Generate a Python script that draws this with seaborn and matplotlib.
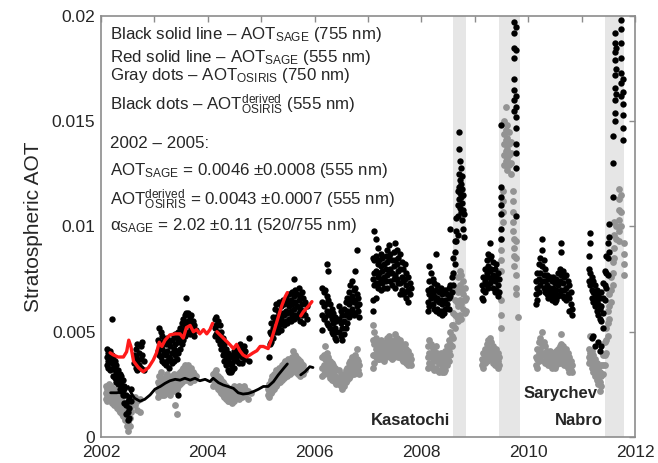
import matplotlib
matplotlib.use("Agg")
import matplotlib.pyplot as plt
import pandas as pd
import seaborn as sns

# ---------------------------------------------------------------------------
# Data (AOT values in units of 1e-3; each time entry holds the retrievals of
# that pass, times in decimal years)
# ---------------------------------------------------------------------------

# OSIRIS-derived AOT at 555 nm (black dots)
b02_t = [2002.11, 2002.14, 2002.17, 2002.20, 2002.23, 2002.26, 2002.29, 2002.32,
         2002.35, 2002.38, 2002.41, 2002.44, 2002.47, 2002.50, 2002.53, 2002.56,
         2002.62, 2002.65, 2002.68, 2002.71, 2002.74, 2002.77, 2002.80]
b02_v = [[4.2, 3.8, 3.4], [4.0, 3.6, 3.3], [4.1, 3.7, 3.2], [5.6, 3.9, 3.5],
         [3.8, 3.3, 2.9], [3.6, 3.2, 2.8], [3.4, 3.0, 2.6], [3.2, 2.8, 2.5],
         [3.0, 2.6, 2.3], [2.9, 2.5, 2.2], [2.7, 2.3, 2.0], [2.4, 2.0, 1.6],
         [2.0, 1.5, 1.1], [1.7, 1.2, 0.8], [1.9, 1.4, 0.9], [2.3, 1.7],
         [3.9, 3.5], [4.2, 3.8, 3.3], [4.4, 3.6, 3.2], [4.0, 3.4],
         [4.3, 3.7, 3.3], [4.5, 3.9], [3.6, 3.2]]

b03_t = [2003.06, 2003.09, 2003.12, 2003.15, 2003.18, 2003.21, 2003.24, 2003.27,
         2003.30, 2003.33, 2003.36, 2003.39, 2003.42, 2003.45, 2003.48, 2003.51,
         2003.54, 2003.57, 2003.60, 2003.63, 2003.66, 2003.69, 2003.72, 2003.75,
         2003.78]
b03_v = [[4.6, 4.1], [5.2, 4.5, 3.9], [5.0, 4.3, 3.8], [4.8, 4.2, 3.6],
         [4.6, 4.0, 3.5], [4.4, 3.9, 3.4], [4.7, 4.1, 3.6], [4.5, 3.8, 3.3],
         [4.3, 3.7], [4.6, 4.0, 3.5], [4.8, 4.2, 3.6], [4.9, 4.4, 3.9],
         [4.7, 4.1, 3.7], [5.0, 4.5, 4.0, 2.0], [5.2, 4.7, 4.2], [5.4, 4.9, 4.4],
         [5.6, 5.1, 4.6], [5.8, 5.3, 4.8], [6.6, 5.9, 5.4, 4.9], [5.9, 5.5, 5.0],
         [5.7, 5.3, 4.9], [5.8, 5.2], [5.5, 5.0], [5.3, 4.8], [5.1]]

b04_t = [2004.13, 2004.16, 2004.19, 2004.22, 2004.25, 2004.28, 2004.31, 2004.34,
         2004.37, 2004.40, 2004.43, 2004.46, 2004.49, 2004.52, 2004.55, 2004.58,
         2004.61, 2004.64, 2004.67, 2004.70, 2004.78]
b04_v = [[5.6, 5.2, 4.8], [5.7, 5.3, 4.9], [5.5, 5.0, 4.6], [5.3, 4.8, 4.4],
         [5.0, 4.6, 4.2], [4.7, 4.3, 3.9], [4.4, 4.0, 3.6], [4.2, 3.8, 3.4],
         [4.0, 3.6, 3.2], [3.9, 3.5, 3.1], [3.8, 3.4, 3.1], [3.9, 3.5, 3.2],
         [4.1, 3.7, 3.3], [4.2, 3.8], [4.0, 3.6], [4.3, 3.9, 3.5], [4.4, 4.0],
         [4.2, 3.8, 3.5], [4.3, 3.9], [4.1, 3.7], [4.7, 3.6]]

b05_t = [2005.14, 2005.16, 2005.19, 2005.22, 2005.25, 2005.28, 2005.31, 2005.34,
         2005.37, 2005.40, 2005.43, 2005.46, 2005.49, 2005.52, 2005.55, 2005.58,
         2005.61, 2005.64, 2005.67, 2005.70, 2005.73, 2005.76, 2005.79, 2005.82,
         2005.85]
b05_v = [[3.8], [5.0, 4.4], [5.4, 4.9, 4.5], [5.7, 5.2, 4.7], [6.1, 5.5, 5.0],
         [6.3, 5.7, 5.2], [6.0, 5.5, 5.0], [6.4, 5.8, 5.3], [6.2, 5.6, 5.1],
         [6.5, 5.9, 5.4], [6.3, 5.8, 5.3], [6.6, 6.0, 5.5], [6.4, 5.9, 5.4],
         [6.8, 6.2, 5.6], [6.5, 6.0, 5.5], [6.9, 6.3, 5.8], [7.5, 6.7, 6.1, 5.6],
         [7.0, 6.4, 5.8], [6.8, 6.2, 5.7], [7.1, 6.5, 5.9], [6.7, 6.1, 5.5],
         [6.9, 6.3, 5.8], [6.6, 6.0, 5.4], [6.4, 5.8], [6.2, 5.6]]

b06_t = [2006.14, 2006.17, 2006.20, 2006.23, 2006.26, 2006.29, 2006.32, 2006.35,
         2006.38, 2006.41, 2006.46, 2006.49, 2006.52, 2006.55, 2006.58, 2006.61,
         2006.64, 2006.67, 2006.70, 2006.73, 2006.76, 2006.79, 2006.82, 2006.84]
b06_v = [[7.1, 6.4, 5.8, 5.1], [6.9, 6.2, 5.6], [7.0, 6.3, 5.7],
         [8.2, 6.7, 6.0, 5.4], [7.9, 6.5, 5.9, 5.3], [6.3, 5.8, 5.2],
         [6.1, 5.6, 5.0], [5.9, 5.4, 4.9], [5.7, 5.2, 4.7], [5.5, 5.0, 4.6],
         [6.2, 5.6, 5.0], [6.0, 5.4, 4.8], [5.8, 5.2, 4.6], [6.1, 5.5, 4.9],
         [6.4, 5.8, 5.2], [6.6, 6.0, 5.4], [6.9, 6.3, 5.7], [7.2, 6.5, 5.9],
         [7.4, 6.7, 6.1], [7.0, 6.4, 5.8], [7.9, 7.1, 6.5, 5.9], [8.9, 6.8, 6.2],
         [6.6, 6.0], [6.3, 5.7]]

b07_t = [2007.09, 2007.12, 2007.15, 2007.18, 2007.21, 2007.24, 2007.27, 2007.30,
         2007.33, 2007.36, 2007.39, 2007.42, 2007.45, 2007.48, 2007.51, 2007.54,
         2007.57, 2007.60, 2007.63, 2007.66, 2007.69, 2007.72, 2007.75, 2007.78,
         2007.81]
b07_v = [[8.5, 7.5, 6.5, 6.0], [9.8, 8.4, 7.8, 7.2], [9.4, 8.6, 7.9, 7.3, 6.6],
         [9.0, 8.2, 7.6, 7.1], [8.4, 7.8, 7.3], [8.7, 8.1, 7.5, 7.0],
         [8.5, 7.9, 7.3], [8.2, 7.6, 7.1], [8.6, 8.0, 7.4], [8.9, 8.3, 7.7, 7.1],
         [9.1, 8.5, 7.8], [8.7, 8.0, 7.4], [8.4, 7.8, 7.2], [8.8, 8.1, 7.5],
         [9.2, 8.4, 7.7, 7.1], [8.9, 8.2, 7.5], [8.5, 7.9, 7.3],
         [8.7, 8.0, 7.3, 6.8], [8.3, 7.6, 7.0], [8.0, 7.4, 6.8], [8.2, 7.5, 6.9],
         [7.8, 7.2, 6.6], [7.6, 7.0, 6.4], [7.3, 6.8], [7.1]]

b08_t = [2008.12, 2008.15, 2008.18, 2008.21, 2008.24, 2008.27, 2008.30, 2008.33,
         2008.36, 2008.39, 2008.42, 2008.45, 2008.48, 2008.51, 2008.54, 2008.57,
         2008.60, 2008.63, 2008.65, 2008.68, 2008.70, 2008.72, 2008.74, 2008.76,
         2008.78, 2008.80]
b08_v = [[7.0, 6.4, 6.0], [8.1, 7.4, 6.8, 6.2], [7.8, 7.1, 6.6], [7.5, 6.9, 6.3],
         [7.3, 6.7, 6.1], [8.7, 7.0, 6.5, 6.0], [7.2, 6.6, 6.1], [6.9, 6.4, 5.9],
         [7.1, 6.5, 6.0], [6.8, 6.3, 5.8], [6.9, 6.4, 5.9], [7.0, 6.5, 6.1],
         [6.8, 6.3], [7.1, 6.6, 6.1], [9.9, 7.2, 6.7], [7.6, 6.9],
         [8.5, 7.8, 7.2], [9.3, 8.8, 8.2], [10.4, 9.8, 9.3],
         [11.7, 11.0, 10.5, 9.6], [14.5, 13.7, 12.5, 11.9, 11.3],
         [13.1, 12.2, 11.6, 10.9], [12.8, 12.0, 11.4, 10.7],
         [12.4, 11.8, 11.1, 10.3], [11.5, 10.8, 9.9], [10.6, 9.5]]

b09_t = [2009.13, 2009.16, 2009.19, 2009.22, 2009.25, 2009.28, 2009.31, 2009.34,
         2009.37, 2009.40, 2009.43, 2009.46, 2009.49, 2009.74, 2009.77]
b09_v = [[7.2, 6.6], [7.6, 7.0, 6.5], [8.0, 7.4, 6.9], [8.4, 7.8, 7.2],
         [8.7, 8.1, 7.6, 7.1], [9.2, 8.5, 7.9, 7.3], [8.6, 8.0, 7.5],
         [8.3, 7.7, 7.1], [8.0, 7.4, 6.9], [8.2, 7.6, 7.0], [7.8, 7.2, 6.7],
         [7.5, 6.9], [14.8, 11.9, 11.4, 11.0, 10.6, 9.9, 9.4],
         [19.7, 19.2, 18.5, 18.0, 17.0, 16.5, 16.0, 15.5],
         [19.5, 18.4, 16.2, 15.7, 15.2, 14.7, 13.9, 13.5, 12.8, 10.5]]

b10_t = [2010.14, 2010.17, 2010.20, 2010.23, 2010.26, 2010.29, 2010.32, 2010.35,
         2010.38, 2010.41, 2010.44, 2010.47, 2010.50, 2010.53, 2010.56, 2010.59,
         2010.62, 2010.65, 2010.68, 2010.71, 2010.74, 2010.77, 2010.80, 2010.83]
b10_v = [[7.4, 6.8, 6.3], [7.8, 7.1, 6.5], [8.2, 7.5, 6.9], [8.5, 7.8, 7.2],
         [9.4, 8.9, 8.1, 7.4], [8.4, 7.7, 7.1], [8.0, 7.4, 6.9], [7.7, 7.2, 6.8],
         [7.5, 7.0, 6.6], [7.6, 7.1, 6.7], [7.4, 6.9, 6.5], [7.6, 7.1, 6.6],
         [7.3, 6.8, 6.4], [7.5, 7.0, 6.5], [7.8, 7.2, 6.7], [8.0, 7.4, 6.8],
         [9.2, 8.8, 7.7, 7.0], [7.9, 7.3, 6.7], [7.6, 7.0, 6.6], [7.7, 7.1, 6.5],
         [7.4, 6.8], [7.2, 6.6, 6.0], [6.9, 6.3], [6.1, 5.8]]

b11_t = [2011.13, 2011.16, 2011.19, 2011.22, 2011.25, 2011.28, 2011.31, 2011.34,
         2011.37, 2011.40, 2011.43, 2011.46, 2011.49, 2011.52, 2011.58, 2011.62,
         2011.65, 2011.74, 2011.78]
b11_v = [[8.6, 8.0, 7.4], [9.7, 9.2, 7.8, 7.2], [7.6, 7.0, 6.6, 4.7],
         [7.4, 6.9, 6.4, 4.8], [7.2, 6.7, 6.2, 4.3], [7.0, 6.5, 6.0],
         [6.8, 6.3, 5.8, 4.5], [6.6, 6.1, 5.6, 4.1], [6.9, 6.2, 5.5, 4.3],
         [7.3, 6.6, 5.9, 5.2], [7.9, 7.2, 6.5], [8.6, 7.8, 7.1],
         [9.2, 8.5, 7.7], [10.1, 9.5, 8.8], [14.3, 13.0, 11.4],
         [19.2, 18.7, 18.3, 17.9, 17.2, 16.6, 16.0, 15.4, 15.0],
         [18.5, 17.5, 16.3], [19.8, 19.4, 18.7, 18.0, 17.3, 16.8, 16.2],
         [17.0, 16.4, 15.8, 15.3, 14.7, 14.1]]

# OSIRIS AOT at 750 nm (gray dots)
g02_t = [2002.09, 2002.12, 2002.15, 2002.18, 2002.21, 2002.24, 2002.27, 2002.30,
         2002.33, 2002.36, 2002.39, 2002.42, 2002.45, 2002.48, 2002.51, 2002.54,
         2002.57, 2002.63, 2002.68, 2002.73]
g02_v = [[2.4, 2.1, 1.8], [2.3, 2.0, 1.7], [2.5, 2.1, 1.8], [2.4, 2.0, 1.7],
         [2.2, 1.9, 1.6], [2.3, 1.9, 1.5], [2.1, 1.8, 1.5], [2.0, 1.7, 1.4],
         [1.9, 1.6, 1.3], [1.8, 1.5, 1.2], [1.7, 1.4, 1.1], [1.6, 1.3, 1.0],
         [1.5, 1.1, 0.8], [1.3, 0.9, 0.5], [1.2, 0.7, 0.3], [1.4, 0.9, 0.5],
         [1.6, 1.2], [1.9, 1.5], [1.7, 1.3], [1.8, 1.2]]

g03_t = [2003.06, 2003.09, 2003.12, 2003.15, 2003.18, 2003.21, 2003.24, 2003.27,
         2003.30, 2003.33, 2003.36, 2003.39, 2003.42, 2003.45, 2003.48, 2003.51,
         2003.54, 2003.57, 2003.60, 2003.63, 2003.66, 2003.69, 2003.72, 2003.75,
         2003.78]
g03_v = [[2.6, 2.2, 1.9], [2.9, 2.5, 2.1], [3.1, 2.6, 2.2], [2.8, 2.4, 2.0],
         [2.7, 2.3, 2.0], [2.9, 2.5, 2.1], [3.0, 2.6, 2.2], [2.8, 2.4, 2.1],
         [2.7, 2.3, 2.0], [2.9, 2.5, 2.2], [3.0, 2.6, 2.3], [2.8, 2.5, 2.2, 1.5],
         [2.9, 2.6, 2.3, 1.1], [3.0, 2.7, 2.4], [3.1, 2.8, 2.5], [3.2, 2.9, 2.6],
         [3.3, 3.0, 2.7], [3.4, 3.1, 2.8], [3.3, 3.0, 2.7], [3.4, 3.1, 2.8],
         [3.2, 2.9, 2.6], [3.3, 3.0, 2.7], [3.1, 2.8], [3.0, 2.7], [2.9]]

g04_t = [2004.10, 2004.13, 2004.16, 2004.19, 2004.22, 2004.25, 2004.28, 2004.31,
         2004.34, 2004.37, 2004.40, 2004.43, 2004.46, 2004.49, 2004.52, 2004.55,
         2004.58, 2004.61, 2004.64, 2004.67, 2004.70, 2004.76, 2004.80]
g04_v = [[3.0, 2.7, 2.4], [3.1, 2.8, 2.5], [3.2, 2.8, 2.4], [2.9, 2.6, 2.3],
         [2.8, 2.5, 2.2], [2.7, 2.4, 2.1], [2.6, 2.3, 2.0], [2.5, 2.2, 1.9],
         [2.4, 2.1, 1.8], [2.3, 2.0, 1.7], [2.2, 1.9, 1.7], [2.3, 2.0, 1.7],
         [2.2, 1.9, 1.6], [2.4, 2.0, 1.7], [2.3, 2.0], [2.2, 1.9],
         [2.4, 2.1, 1.8], [2.3, 2.0], [2.2, 1.9], [2.4, 2.1], [2.3, 2.0],
         [2.2, 1.8], [2.1]]

g05_t = [2005.12, 2005.15, 2005.18, 2005.21, 2005.24, 2005.27, 2005.30, 2005.33,
         2005.36, 2005.39, 2005.42, 2005.45, 2005.48, 2005.51, 2005.54, 2005.57,
         2005.60, 2005.63, 2005.66, 2005.69, 2005.72, 2005.75, 2005.78, 2005.82]
g05_v = [[2.3, 2.0], [2.5, 2.2, 1.9], [2.7, 2.4, 2.1], [2.9, 2.5, 2.2],
         [3.0, 2.6, 2.3], [3.2, 2.8, 2.4], [3.1, 2.8, 2.5], [3.3, 2.9, 2.6],
         [3.2, 2.9, 2.6], [3.4, 3.0, 2.7], [3.5, 3.1, 2.8], [3.6, 3.2, 2.9],
         [3.5, 3.2, 2.9], [3.7, 3.3, 3.0], [3.6, 3.3, 3.0], [3.8, 3.4, 3.1],
         [4.1, 3.6, 3.2], [3.9, 3.5, 3.2], [3.8, 3.4, 3.1], [3.7, 3.4, 3.0],
         [3.6, 3.2, 2.9], [3.5, 3.1], [3.4, 3.0], [3.2]]

g06_t = [2006.14, 2006.17, 2006.20, 2006.23, 2006.26, 2006.29, 2006.32, 2006.35,
         2006.38, 2006.41, 2006.46, 2006.49, 2006.52, 2006.55, 2006.58, 2006.61,
         2006.64, 2006.67, 2006.70, 2006.73, 2006.76, 2006.79, 2006.82, 2006.84]
g06_v = [[3.8, 3.3, 2.9], [3.9, 3.4, 3.0], [4.3, 3.7, 3.2], [4.0, 3.5, 3.1],
         [3.8, 3.4, 3.0], [3.6, 3.2, 2.8], [3.5, 3.1, 2.7], [3.4, 3.0, 2.7],
         [3.3, 2.9, 2.6], [3.2, 2.8, 2.5], [3.2, 2.8, 2.5], [3.0, 2.7, 2.4],
         [2.9, 2.6, 2.3], [3.0, 2.7, 2.4], [3.2, 2.9, 2.6], [3.3, 3.0, 2.7],
         [3.5, 3.1, 2.8], [3.6, 3.2, 2.9], [3.8, 3.4, 3.0], [3.7, 3.3, 3.0],
         [3.9, 3.5, 3.1], [4.2, 3.7, 3.3], [3.6, 3.2], [3.4, 3.0]]

g07_t = [2007.09, 2007.12, 2007.15, 2007.18, 2007.21, 2007.24, 2007.27, 2007.30,
         2007.33, 2007.36, 2007.39, 2007.42, 2007.45, 2007.48, 2007.51, 2007.54,
         2007.57, 2007.60, 2007.63, 2007.66, 2007.69, 2007.72, 2007.75, 2007.78,
         2007.81]
g07_v = [[5.3, 4.6, 3.9, 3.3], [5.0, 4.4, 3.9, 3.5], [4.7, 4.2, 3.8],
         [4.5, 4.1, 3.7], [4.4, 4.0, 3.7], [4.6, 4.2, 3.8], [4.4, 4.0, 3.7],
         [4.3, 3.9, 3.6], [4.5, 4.1, 3.8], [4.7, 4.3, 3.9], [4.8, 4.4, 4.0],
         [4.6, 4.2, 3.8], [4.4, 4.0, 3.7], [4.6, 4.2, 3.8], [4.9, 4.4, 4.0],
         [4.7, 4.3, 3.9], [4.5, 4.1, 3.8], [4.6, 4.2, 3.8], [4.4, 4.0, 3.7],
         [4.3, 3.9, 3.6], [4.4, 4.0, 3.6], [4.2, 3.8, 3.5], [4.1, 3.7, 3.4],
         [3.9, 3.5], [3.7, 3.4]]

g08_t = [2008.12, 2008.15, 2008.18, 2008.21, 2008.24, 2008.27, 2008.30, 2008.33,
         2008.36, 2008.39, 2008.42, 2008.45, 2008.48, 2008.51, 2008.54, 2008.57,
         2008.60, 2008.63, 2008.66, 2008.69, 2008.72, 2008.75, 2008.78, 2008.81,
         2008.84]
g08_v = [[4.3, 3.8, 3.3], [4.6, 4.0, 3.5], [4.4, 3.9, 3.4], [4.2, 3.7, 3.3],
         [4.1, 3.6, 3.2], [4.3, 3.8, 3.3], [4.0, 3.6, 3.2], [3.9, 3.5, 3.1],
         [4.0, 3.6, 3.2], [3.8, 3.4, 3.1], [3.9, 3.5, 3.1], [4.1, 3.6, 3.2],
         [4.3, 3.8, 3.4], [4.6, 4.1, 3.6], [5.0, 4.4, 3.9], [5.3, 4.8, 4.3],
         [5.9, 5.3, 4.7], [6.5, 5.8, 5.2], [7.1, 6.4, 5.7], [7.6, 6.9, 6.2, 5.5],
         [7.9, 7.2, 6.5, 5.8], [7.7, 7.0, 6.3, 5.6], [7.4, 6.8, 6.1],
         [7.1, 6.5, 5.9], [6.6, 6.0]]

g09_t = [2009.13, 2009.16, 2009.19, 2009.22, 2009.25, 2009.28, 2009.31, 2009.34,
         2009.37, 2009.40, 2009.43, 2009.46, 2009.49, 2009.52, 2009.55, 2009.58,
         2009.61, 2009.64, 2009.67, 2009.71, 2009.74, 2009.78, 2009.81]
g09_v = [[3.7, 3.4], [4.0, 3.6, 3.3], [4.2, 3.8, 3.5], [4.4, 4.0, 3.6],
         [4.6, 4.1, 3.7], [4.7, 4.2, 3.8], [4.5, 4.1, 3.7], [4.3, 3.9, 3.5],
         [4.1, 3.7, 3.4], [4.2, 3.8, 3.4], [4.0, 3.6, 3.3], [3.8, 3.4],
         [9.4, 8.9, 8.4, 7.9, 6.5, 5.8, 5.2], [11.7, 11.2, 10.7, 10.2],
         [15.0, 14.4, 13.9, 13.4, 12.9], [15.7, 14.6, 14.1, 13.6, 13.1],
         [14.8, 14.2, 13.7, 13.2, 12.7], [14.5, 13.9, 13.4, 12.9],
         [14.0, 13.5, 13.0, 12.5], [11.7, 11.2, 10.7, 10.2, 9.8],
         [9.4, 9.0, 8.6, 8.1], [9.3, 8.5, 7.7, 7.1, 6.8], [5.7]]

g10_t = [2010.14, 2010.17, 2010.20, 2010.23, 2010.26, 2010.29, 2010.32, 2010.35,
         2010.38, 2010.41, 2010.44, 2010.47, 2010.50, 2010.53, 2010.56, 2010.59,
         2010.62, 2010.65, 2010.68, 2010.71, 2010.74, 2010.77, 2010.80, 2010.83]
g10_v = [[3.8, 3.4], [4.2, 3.7, 3.3], [4.5, 4.0, 3.6], [4.7, 4.2, 3.8],
         [5.0, 4.4, 3.9], [4.5, 4.0, 3.6], [4.3, 3.9, 3.5], [4.1, 3.8, 3.5],
         [4.0, 3.7, 3.4], [4.1, 3.7, 3.4], [3.9, 3.6, 3.3], [4.0, 3.7, 3.4],
         [3.9, 3.6, 3.3], [4.1, 3.7, 3.4], [4.2, 3.8, 3.5], [4.3, 3.9, 3.5],
         [4.9, 4.4, 4.0, 3.6], [4.3, 3.9, 3.5], [4.1, 3.7, 3.4], [4.2, 3.8, 3.4],
         [4.0, 3.6, 3.3], [3.8, 3.4, 3.1], [3.6, 3.2], [3.4, 3.1]]

g11_t = [2011.13, 2011.16, 2011.19, 2011.22, 2011.25, 2011.28, 2011.31, 2011.34,
         2011.37, 2011.40, 2011.43, 2011.46, 2011.49, 2011.52, 2011.55, 2011.58,
         2011.61, 2011.64, 2011.70, 2011.74, 2011.79]
g11_v = [[4.2, 3.8, 3.5], [4.8, 4.0, 3.6], [4.1, 3.6, 3.3], [3.9, 3.4, 3.1],
         [3.7, 3.2, 2.9], [3.5, 3.0, 2.7], [3.3, 2.8, 2.5], [3.1, 2.6, 2.2],
         [3.4, 2.9, 2.4], [3.9, 3.4, 3.0], [4.5, 3.9, 3.4], [5.2, 4.6, 4.0],
         [6.0, 5.4, 4.8], [6.8, 6.2, 5.6], [7.6, 7.0, 6.4], [8.3, 7.8, 7.2],
         [10.2, 9.6, 9.0, 8.5], [10.0, 9.4],
         [11.8, 11.3, 10.8, 10.3, 9.8, 9.3], [11.5, 10.7, 10.0],
         [9.2, 8.7, 8.2, 7.7]]

# SAGE II AOT at 555 nm (red line), three record segments
sage555_t = [
    [2002.17, 2002.23, 2002.32, 2002.42, 2002.48, 2002.52, 2002.56, 2002.61,
     2002.70, 2002.79, 2002.89, 2002.98, 2003.04, 2003.09, 2003.14, 2003.20,
     2003.29, 2003.39, 2003.48, 2003.54, 2003.60, 2003.67, 2003.73, 2003.79,
     2003.85, 2003.92, 2003.98, 2004.04, 2004.09],
    [2004.17, 2004.23, 2004.29, 2004.35, 2004.42, 2004.48, 2004.54, 2004.60,
     2004.66, 2004.73, 2004.79, 2004.85, 2004.92, 2004.98, 2005.04, 2005.13,
     2005.20, 2005.26, 2005.32, 2005.38, 2005.45, 2005.49],
    [2005.74, 2005.79, 2005.88, 2005.95],
]
sage555_v = [
    [4.0, 3.9, 3.8, 3.8, 4.05, 4.6, 4.3, 3.6, 3.3, 3.1, 3.3, 3.66, 4.0, 4.5,
     4.3, 4.6, 4.85, 4.9, 4.9, 4.7, 5.2, 5.3, 5.0, 5.1, 4.9, 5.1, 4.9, 5.1, 5.4],
    [5.0, 4.85, 4.7, 4.55, 4.37, 4.2, 4.4, 4.1, 3.9, 3.8, 3.9, 4.0, 4.1, 4.3,
     4.3, 4.2, 4.7, 5.2, 5.7, 6.2, 6.67, 6.86],
    [5.75, 5.95, 6.2, 6.43],
]

# SAGE II AOT at 755 nm (black line), two record segments
sage755_t = [
    [2002.18, 2002.29, 2002.45, 2002.51, 2002.57, 2002.63, 2002.73, 2002.82,
     2002.92, 2003.01, 2003.11, 2003.20, 2003.29, 2003.39, 2003.48, 2003.57,
     2003.67, 2003.76, 2003.85, 2003.95, 2004.04, 2004.10, 2004.20, 2004.29,
     2004.38, 2004.48, 2004.57, 2004.66, 2004.76, 2004.85, 2004.95, 2005.04,
     2005.13, 2005.23, 2005.32, 2005.42, 2005.49],
    [2005.74, 2005.82, 2005.91, 2005.97],
]
sage755_v = [
    [2.1, 2.1, 2.15, 2.4, 2.07, 1.84, 1.7, 1.79, 2.0, 2.27, 2.4, 2.55, 2.67,
     2.74, 2.7, 2.79, 2.7, 2.79, 2.67, 2.74, 2.63, 2.79, 2.58, 2.47, 2.4, 2.31,
     2.1, 2.04, 2.07, 2.15, 2.27, 2.4, 2.4, 2.63, 2.95, 3.26, 3.47],
    [2.95, 3.1, 3.34, 3.3],
]

# Volcanic eruption periods (start, end) and their labels
eruption_periods = [(2008.59, 2008.84), (2009.46, 2009.85), (2011.43, 2011.80)]
eruption_names = ["Kasatochi", "Sarychev", "Nabro"]
eruption_label_pos = [(2007.79, 0.57), (2010.60, 1.84), (2010.95, 0.57)]

year_ticks = list(range(2002, 2013))
year_labels = [str(y) if y % 2 == 0 else "" for y in year_ticks]
aot_ticks = [0, 0.005, 0.01, 0.015, 0.02]
aot_labels = ["0", "0.005", "0.01", "0.015", "0.02"]


def passes_frame(pairs):
    rows = []
    for times, values in pairs:
        for t, vals in zip(times, values):
            for v in vals:
                rows.append({"year": t, "aot": v * 1e-3})
    return pd.DataFrame(rows)


def segments_frame(times, values):
    rows = []
    for k, (ts, vs) in enumerate(zip(times, values)):
        for t, v in zip(ts, vs):
            rows.append({"year": t, "aot": v * 1e-3, "seg": k})
    return pd.DataFrame(rows)


black_dots = passes_frame([(b02_t, b02_v), (b03_t, b03_v), (b04_t, b04_v),
                           (b05_t, b05_v), (b06_t, b06_v), (b07_t, b07_v),
                           (b08_t, b08_v), (b09_t, b09_v), (b10_t, b10_v),
                           (b11_t, b11_v)])
gray_dots = passes_frame([(g02_t, g02_v), (g03_t, g03_v), (g04_t, g04_v),
                          (g05_t, g05_v), (g06_t, g06_v), (g07_t, g07_v),
                          (g08_t, g08_v), (g09_t, g09_v), (g10_t, g10_v),
                          (g11_t, g11_v)])
sage555 = segments_frame(sage555_t, sage555_v)
sage755 = segments_frame(sage755_t, sage755_v)

# ---------------------------------------------------------------------------
# Figure
# ---------------------------------------------------------------------------
sns.set_style("white")
plt.rcParams["font.family"] = ["Liberation Sans", "DejaVu Sans"]
plt.rcParams["mathtext.fontset"] = "custom"
plt.rcParams["mathtext.rm"] = "Liberation Sans"
plt.rcParams["mathtext.it"] = "Liberation Sans:italic"
plt.rcParams["mathtext.bf"] = "Liberation Sans:bold"

fig = plt.figure(figsize=(6.58, 4.63), dpi=100)
ax = fig.add_axes([0.1535, 0.0562, 0.8115, 0.9092])

for start, end in eruption_periods:
    ax.axvspan(start, end, color="#e6e6e6", lw=0, zorder=0)

sns.scatterplot(data=gray_dots, x="year", y="aot", ax=ax, color="#939393",
                s=24, linewidth=0, zorder=2)
sns.scatterplot(data=black_dots, x="year", y="aot", ax=ax, color="black",
                s=21, linewidth=0, zorder=3)
sns.lineplot(data=sage755, x="year", y="aot", units="seg", estimator=None,
             ax=ax, color="black", lw=2.0, zorder=4)
sns.lineplot(data=sage555, x="year", y="aot", units="seg", estimator=None,
             ax=ax, color="#ff1a1a", lw=2.4, zorder=5)

ax.set_xlim(2002, 2012)
ax.set_ylim(0, 0.02)
ax.set_xticks(year_ticks)
ax.set_xticklabels(year_labels)
ax.set_yticks(aot_ticks)
ax.set_yticklabels(aot_labels)
ax.tick_params(axis="both", which="both", direction="in", length=4,
               width=1, color="#8c8c8c", labelsize=12.5, pad=4,
               top=True, right=True)
ax.tick_params(axis="x", pad=6)
for sp in ax.spines.values():
    sp.set_color("#8c8c8c")
    sp.set_linewidth(1.2)
ax.set_xlabel("")
ax.set_ylabel("Stratospheric AOT", fontsize=15, labelpad=6)

legend_lines = [
    (0.9454, "Black solid line \u2013 AOT$_{\\mathrm{SAGE}}$ (755 nm)"),
    (0.8915, "Red solid line \u2013 AOT$_{\\mathrm{SAGE}}$ (555 nm)"),
    (0.8480, "Gray dots \u2013 AOT$_{\\mathrm{OSIRIS}}$ (750 nm)"),
    (0.7767, "Black dots \u2013 AOT$^{\\mathrm{derived}}_{\\mathrm{OSIRIS}}$ (555 nm)"),
    (0.6865, "2002 \u2013 2005:"),
    (0.6223, "AOT$_{\\mathrm{SAGE}}$ = 0.0046 \u00b10.0008 (555 nm)"),
    (0.5511, "AOT$^{\\mathrm{derived}}_{\\mathrm{OSIRIS}}$ = 0.0043 \u00b10.0007 (555 nm)"),
    (0.4917, "\u03b1$_{\\mathrm{SAGE}}$ = 2.02 \u00b10.11 (520/755 nm)"),
]
for ypos, txt in legend_lines:
    ax.text(0.017, ypos, txt, transform=ax.transAxes, fontsize=12.2,
            ha="left", va="baseline", zorder=6)

for name, (x, y) in zip(eruption_names, eruption_label_pos):
    ax.text(x, y * 1e-3, name, fontsize=12, fontweight="bold",
            ha="center", va="baseline", zorder=6)

fig.savefig("out.png", dpi=100)
